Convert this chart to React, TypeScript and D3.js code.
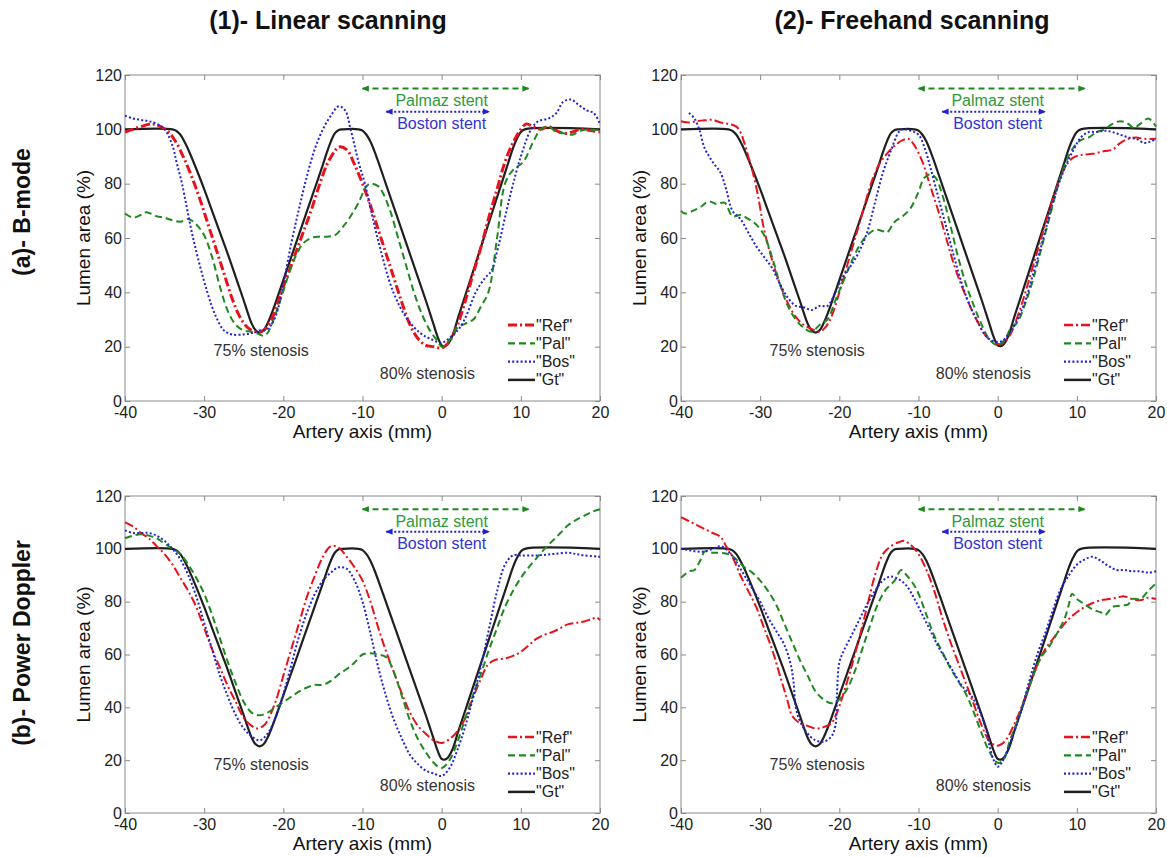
import React, { useRef, useEffect } from 'react'
import * as d3 from 'd3'

type Pt = [number, number]

const xTicks = [-40, -30, -20, -10, 0, 10, 20]
const yTicks = [0, 20, 40, 60, 80, 100, 120]
const legendNames = ['"Ref"', '"Pal"', '"Bos"', '"Gt"']
const colTitles = ['(1)- Linear scanning', '(2)- Freehand scanning']
const rowTitles = ['(a)- B-mode', '(b)- Power Doppler']
const palmazRange = [-10, 11]
const bostonRange = [-7, 6]

// ground truth profile (same in every plot)
const gt: Pt[] = [
  [-40, 100], [-34, 100], [-33.5, 99.4], [-33, 98], [-32.5, 95.5], [-32, 92.5], [-31, 85.5], [-30, 78],
  [-29, 70], [-28, 62], [-27, 54], [-26, 45.5], [-25, 37], [-24.5, 32.5], [-24, 28.5], [-23.5, 26],
  [-23, 25.2], [-22.5, 26], [-22, 28.5], [-21.5, 32], [-21, 36], [-20, 44.5], [-19, 53], [-18, 61.5],
  [-17, 70], [-16, 78.5], [-15, 87], [-14.5, 91.5], [-14, 95.5], [-13.5, 98.5], [-13, 99.8], [-12.5, 100],
  [-10.5, 100], [-10, 99.5], [-9.5, 98], [-9, 95.5], [-8.5, 92], [-8, 88], [-7, 79.5], [-6, 71],
  [-5, 62.5], [-4, 54], [-3, 45.5], [-2, 37], [-1.5, 32.5], [-1, 28], [-0.5, 23.5], [0, 20.5],
  [0.4, 20.2], [0.8, 21], [1.2, 23], [1.6, 26], [2, 30], [3, 39], [4, 48], [5, 57], [6, 66], [7, 75],
  [8, 84], [8.5, 88.5], [9, 93], [9.5, 96.5], [10, 99], [10.5, 100], [20, 100],
]

// (a)(1) B-mode, linear scanning
const refA1: Pt[] = [
  [-40, 99], [-39, 100], [-38, 101], [-36.5, 102], [-35.5, 101], [-34.5, 99], [-33.5, 95], [-32.5, 89],
  [-31.5, 82], [-30.5, 74], [-29.5, 65], [-28.5, 56], [-27.5, 47], [-26.5, 38], [-25.5, 31], [-24.5, 27],
  [-23.5, 25.5], [-22.5, 26], [-21.5, 30], [-20.5, 38], [-19.5, 46], [-18.5, 54], [-17.5, 62], [-16.5, 70],
  [-15.5, 79], [-14.5, 87], [-13.5, 92], [-13, 93.5], [-12, 92.5], [-11, 87], [-10, 80], [-9, 72], [-8, 63],
  [-7, 54], [-6, 45], [-5, 36], [-4, 28], [-3, 23], [-2, 20.5], [-1, 20], [0, 19.5], [1, 22], [2, 28],
  [3, 37], [4, 47], [5, 57], [6, 68], [7, 78], [8, 88], [9, 95], [10, 100], [10.7, 102], [11.5, 101],
  [12.5, 100], [13.5, 101], [14.5, 99.5], [15.5, 98.5], [16.5, 99], [17.5, 100], [19, 99.5], [20, 99],
]
const palA1: Pt[] = [
  [-40, 69], [-39, 67.5], [-38, 68.5], [-37.3, 69.5], [-36, 68], [-35, 67.5], [-34, 66.5], [-33, 66],
  [-32, 67], [-31, 65], [-30, 61], [-29, 53], [-28, 42], [-27, 33], [-26, 28], [-25, 26], [-24, 25.5],
  [-23, 24.5], [-22.5, 24], [-22, 25], [-21.5, 28], [-20.5, 36], [-19.5, 45], [-18.5, 53], [-17.5, 58],
  [-16.5, 60], [-15.5, 60.5], [-14.5, 60.5], [-13.5, 61], [-12.5, 64], [-11.5, 68], [-10.5, 73], [-9.5, 79],
  [-9, 80], [-8, 79], [-7.5, 77], [-6.5, 70], [-5.5, 60], [-4.5, 50], [-3.5, 40], [-2.5, 32], [-1.5, 26],
  [-0.5, 22], [0, 20], [1, 22.5], [2, 27], [3, 28.5], [4, 30], [5, 35], [5.9, 40], [7, 60], [8, 80],
  [9, 85], [10.3, 88], [11.5, 95], [12.5, 100], [13.5, 101], [14.5, 99], [15.5, 98.5], [16.5, 98],
  [17.5, 99.5], [18.5, 100], [20, 99.5],
]
const bosA1: Pt[] = [
  [-40, 105], [-39, 104], [-38, 103.5], [-37, 103], [-36, 102], [-35, 100], [-34, 94], [-33.5, 88],
  [-32.8, 80], [-31.4, 60], [-29.6, 40], [-28.5, 31], [-27.5, 26], [-26.5, 24.5], [-25, 24.5], [-24, 25],
  [-23, 26], [-22, 26.5], [-21, 31], [-20, 43], [-19, 58], [-18, 71], [-17, 83], [-16, 93], [-15, 100],
  [-14, 105], [-13, 108.5], [-12.2, 107], [-11.5, 100], [-10.5, 88], [-9.7, 80], [-8.1, 60], [-6.1, 40],
  [-4.3, 30], [-2.7, 25], [-1.5, 23], [0, 21.5], [1.3, 24], [2.3, 27], [3.2, 32], [4.3, 40], [5.4, 45],
  [6.3, 48], [7, 55], [8.6, 75], [10, 90], [11.3, 100], [12.2, 103], [13.5, 104], [14.5, 106], [15.3, 110],
  [16.3, 111], [17.3, 109], [18.3, 107], [19.2, 106], [20, 102],
]

// (a)(2) B-mode, freehand scanning
const refA2: Pt[] = [
  [-40, 103], [-39, 102.5], [-38, 103], [-37, 103.3], [-36, 103.5], [-35, 102.5], [-34, 102], [-33, 101],
  [-32.5, 99], [-32, 95], [-31.5, 90], [-31, 85], [-30.3, 76], [-29.5, 63], [-28.5, 52], [-27.5, 43],
  [-26.5, 36], [-25.5, 31], [-24.5, 28], [-23.5, 26.5], [-22.5, 25.5], [-21.8, 27], [-21, 31], [-20, 40],
  [-19, 50], [-18, 60], [-17, 70], [-16, 80], [-15, 87], [-14, 91], [-13, 94], [-12, 96], [-11.3, 96.5],
  [-10.5, 94], [-9.5, 88], [-8.5, 79], [-7.5, 70], [-6.5, 60], [-5.5, 50], [-4.5, 42], [-3.5, 35],
  [-2.5, 29], [-1.5, 24], [-0.5, 21.5], [0.5, 21], [1.5, 24], [2.5, 31], [3.5, 40], [4.5, 50], [5.5, 60],
  [6.5, 70], [7.5, 79], [8.5, 86], [9.5, 89.5], [10.5, 90.5], [12, 91], [13.5, 92], [14.5, 92.5],
  [15.5, 95], [16.5, 96.5], [17.5, 97], [18.5, 96.5], [20, 96.5],
]
const palA2: Pt[] = [
  [-40, 70], [-39.5, 69], [-38.5, 70], [-37.5, 71.5], [-36.5, 73.5], [-35.5, 72.5], [-34.5, 73], [-33.5, 68],
  [-32.5, 68.5], [-31.5, 67], [-30.5, 65], [-29.5, 61], [-28.5, 53], [-27.5, 43], [-26.5, 35], [-25.5, 30],
  [-24.5, 27], [-23.5, 25.5], [-22.5, 28], [-21.5, 30], [-20.5, 37], [-19.5, 44], [-18.5, 51], [-17.5, 57],
  [-16.5, 61], [-15.5, 63], [-14.5, 62.5], [-14, 62], [-13, 66], [-12, 68], [-11, 71], [-10, 77],
  [-9.3, 82], [-8.5, 83.5], [-7.8, 82], [-7, 76], [-6, 65], [-5, 53], [-4, 43], [-3, 35], [-2, 28],
  [-1, 22.5], [0, 20.5], [1, 23], [1.5, 26], [2.5, 29], [3.5, 36], [4.5, 45], [5.5, 56], [6.5, 67],
  [7.5, 78], [8.5, 87], [9.5, 93], [10.5, 96], [11.5, 97], [12.5, 99], [13.5, 100], [14.5, 102],
  [15.5, 103], [16.5, 102], [17.2, 100.5], [18, 102], [19, 104], [19.5, 103], [20, 101],
]
const bosA2: Pt[] = [
  [-39, 106], [-38.3, 104], [-37.7, 100], [-37, 93], [-36, 88], [-35, 84], [-34.3, 78], [-33.5, 70],
  [-32.5, 67], [-31.5, 62], [-30.5, 57], [-29.5, 53], [-28.5, 49], [-27.5, 43], [-26.5, 38], [-25.5, 35],
  [-24.5, 34.5], [-23.5, 33.5], [-22.5, 35], [-21.5, 35], [-20.5, 40], [-19.5, 46], [-18.5, 50],
  [-17.5, 55], [-16.5, 62], [-15.5, 73], [-14.5, 84], [-13.5, 92], [-12.5, 99], [-12, 100], [-11, 99.5],
  [-10, 98], [-9.2, 93], [-8.5, 86], [-7.5, 75], [-6.5, 64], [-5.5, 53], [-4.5, 43], [-3.5, 35],
  [-2.5, 29], [-1.5, 24], [-0.5, 22], [0.5, 22], [1.5, 25], [2.5, 30], [3.5, 37], [4.5, 47], [5.5, 57],
  [6.5, 68], [7.5, 78], [8.5, 86], [9.5, 92], [10.5, 97], [11.5, 99], [12.5, 99], [13.5, 99.5],
  [14.5, 99], [15.5, 98], [16.5, 97], [17.5, 96.5], [18.5, 95], [19.3, 95.5], [20, 96.5],
]

// (b)(1) Power Doppler, linear scanning
const refB1: Pt[] = [
  [-40, 110], [-39, 108.5], [-38, 106], [-37, 104], [-36, 101], [-35, 98], [-34, 94], [-33, 89], [-32, 84],
  [-31, 78], [-30, 70], [-29, 62], [-28, 55], [-27, 48], [-26, 42], [-25, 36], [-24, 33], [-23.3, 32],
  [-22.5, 33], [-22, 35], [-21, 42], [-20, 52], [-19, 62], [-18, 72], [-17, 82], [-16, 90], [-15, 97],
  [-14, 101], [-13, 100.5], [-12, 97], [-11, 93], [-10, 88], [-9, 80], [-8, 70], [-7, 61], [-6, 53],
  [-5, 45], [-4, 38], [-3, 33], [-2, 30], [-1, 27.5], [0, 26.5], [1, 28], [2, 31], [3, 36], [4, 44],
  [5, 51], [5.8, 56], [6.8, 58], [8, 58.5], [9, 59.5], [10, 61], [11, 63.5], [12, 66], [13, 67.5],
  [14, 68.5], [15, 70], [16, 71.5], [17, 72], [18, 72.5], [19, 73.5], [19.6, 74], [20, 73],
]
const palB1: Pt[] = [
  [-40, 104], [-39, 105], [-38, 105.5], [-37, 105], [-36, 104], [-35, 102], [-34, 100], [-33, 98],
  [-32, 94], [-31, 89], [-30, 83], [-29, 75], [-28, 66], [-27, 57], [-26, 49], [-25, 42], [-24, 38],
  [-23, 37], [-22, 38], [-21, 40], [-20, 42], [-19, 44], [-18, 46], [-17, 47.5], [-16, 48.5], [-15, 48.5],
  [-14, 50], [-13, 52.5], [-12, 54.5], [-11, 57], [-10, 60], [-9, 60.5], [-8, 60], [-7, 59], [-6, 53],
  [-5, 44], [-4, 35], [-3, 28], [-2, 23], [-1, 19], [0, 17], [1, 20], [2, 27], [3, 36], [4, 45],
  [5, 53], [6, 62], [7, 70], [8, 78], [9, 84], [10, 89], [11, 93], [12, 96.5], [13, 100], [14, 103],
  [15, 106], [16, 109], [17, 111], [18, 112.5], [19, 114], [20, 115],
]
const bosB1: Pt[] = [
  [-40, 107], [-39, 106], [-38, 106], [-37, 106], [-36, 105], [-35, 103], [-34, 100], [-33, 96],
  [-32, 90], [-31, 82], [-30, 72], [-29, 62], [-28, 52], [-27, 44], [-26, 37], [-25, 32], [-24, 29],
  [-23, 27.5], [-22, 30], [-21, 36], [-20, 45], [-19, 56], [-18, 67], [-17, 76], [-16, 83], [-15, 88],
  [-14, 91], [-13, 93], [-12, 92.5], [-11, 88], [-10, 80], [-9, 68], [-8, 55], [-7, 44], [-6, 35],
  [-5, 28], [-4, 22], [-3, 18.5], [-2, 16], [-1, 15], [0, 14], [1, 17], [2, 24], [3, 33], [4, 44],
  [5, 56], [6, 70], [7, 84], [8, 94], [9, 97.5], [10, 97.5], [12, 97.5], [14, 98], [16, 98.5], [17, 98],
  [18, 97.5], [20, 97],
]

// (b)(2) Power Doppler, freehand scanning
const refB2: Pt[] = [
  [-40, 112], [-39, 110.5], [-38, 109], [-37, 107.5], [-36, 106], [-35, 104.5], [-34.3, 101], [-33.5, 97],
  [-32.5, 90], [-31.5, 84], [-30.5, 78], [-29.5, 70], [-28.5, 62], [-27.5, 52], [-26.5, 42], [-26, 37],
  [-25, 34], [-24, 33], [-23, 32], [-22, 32.5], [-21, 34], [-20.3, 38], [-19.5, 45], [-18.5, 55],
  [-17.5, 66], [-16.5, 78], [-15.5, 90], [-14.5, 98], [-13.5, 101], [-12.5, 102.5], [-11.8, 103],
  [-11, 101.5], [-10, 98], [-9, 92], [-8, 84], [-7, 74], [-6, 65], [-5, 57], [-4, 49], [-3, 41],
  [-2, 33], [-1, 27], [0, 25.5], [1, 27.5], [2, 33], [3, 40], [4, 48], [5, 56], [6, 62], [7, 66],
  [8, 70], [9, 73.5], [10, 76], [11, 78], [12, 79.5], [13, 80.5], [14, 81], [15, 81.5], [16, 82],
  [17, 81], [18, 80.5], [19, 81.5], [20, 81],
]
const palB2: Pt[] = [
  [-40, 89], [-39, 91.5], [-38.3, 92], [-37.5, 96], [-37, 99], [-36, 98.5], [-35, 98.5], [-34, 98],
  [-33, 96], [-32, 93], [-31, 91], [-30, 88], [-29, 84], [-28, 79], [-27, 72], [-26, 65], [-25, 58],
  [-24, 52], [-23, 46], [-22, 43], [-21, 41.5], [-20, 43], [-19, 47], [-18, 54], [-17, 63], [-16, 72],
  [-15, 80], [-14, 85], [-13, 88], [-12.2, 92], [-11.5, 90], [-10.5, 86], [-10, 83], [-9, 75], [-8, 67],
  [-7, 61], [-6, 55], [-5, 50], [-4, 45], [-3, 38], [-2, 30], [-1, 23], [0, 19], [0.7, 20], [1.5, 27],
  [2.5, 35], [3.5, 44], [4.5, 52], [5.5, 59], [6.5, 63], [7.5, 68], [8.5, 74], [9, 79], [9.4, 83],
  [10, 81], [11, 79], [12, 77], [13, 76], [13.6, 75], [14.5, 78], [15.5, 78.5], [16.5, 79], [17, 81],
  [18, 81], [19, 84], [20, 87],
]
const bosB2: Pt[] = [
  [-40, 100], [-39, 99.5], [-38, 99], [-37, 99], [-36, 100], [-35, 101], [-34, 99], [-33, 95], [-32, 90],
  [-31, 85], [-30, 80], [-29, 74], [-28, 69], [-27, 64], [-26.2, 57], [-25.8, 50], [-25.5, 40], [-25, 35],
  [-24, 30], [-23, 27.5], [-22, 27], [-21, 29], [-20.5, 33], [-20.3, 45], [-20, 57], [-19.5, 61],
  [-18.5, 67], [-17.5, 73], [-16.5, 79], [-15.5, 84], [-14.5, 88], [-13.5, 89.5], [-12.5, 88.5],
  [-11.5, 86], [-10.5, 81], [-9.5, 75], [-8.5, 69], [-7.5, 63], [-6.5, 58], [-5.5, 53], [-4.5, 48],
  [-3.5, 45], [-2.5, 40], [-1.5, 32], [-1, 25], [-0.5, 20], [0, 17.5], [0.5, 19], [1, 22], [2, 30],
  [3, 39], [4, 50], [5, 60], [6, 68], [7, 77], [8, 85], [9, 90], [10, 94], [11, 96], [12, 97],
  [13, 95.5], [14, 93.5], [15, 92], [16, 92], [17, 91.5], [18, 91.5], [19, 91], [20, 91.5],
]

const FONT = '"Liberation Sans", Arial, Helvetica, sans-serif'
const frameColor = '#8a8a8a'
const textColor = '#222'
const styles = [
  { color: '#e8121c', dash: '9,3,2,3' },
  { color: '#1e8a1e', dash: '7,4' },
  { color: '#2222d4', dash: '2,2.2' },
  { color: '#1f1f1f', dash: null },
]

const panels = [
  { left: 125, top: 75, width: 475, height: 326, series: [refA1, palA1, bosA1], refWidth: 3 },
  { left: 681, top: 75, width: 475, height: 326, series: [refA2, palA2, bosA2], refWidth: 2 },
  { left: 125, top: 496, width: 475, height: 317, series: [refB1, palB1, bosB1], refWidth: 2 },
  { left: 681, top: 496, width: 475, height: 317, series: [refB2, palB2, bosB2], refWidth: 2 },
]

export default function App() {
  const svgRef = useRef<SVGSVGElement>(null)

  useEffect(() => {
    const svg = d3.select(svgRef.current)
    svg.selectAll('*').remove()

    const defs = svg.append('defs')
    const marker = (id: string, color: string) =>
      defs
        .append('marker')
        .attr('id', id)
        .attr('viewBox', '0 0 10 10')
        .attr('refX', 9)
        .attr('refY', 5)
        .attr('markerUnits', 'userSpaceOnUse')
        .attr('markerWidth', 8)
        .attr('markerHeight', 7)
        .attr('orient', 'auto-start-reverse')
        .append('path')
        .attr('d', 'M0,0.5 L10,5 L0,9.5 Z')
        .attr('fill', color)
    marker('arrowPal', styles[1].color)
    marker('arrowBos', styles[2].color)

    // column / row titles
    colTitles.forEach((t, i) => {
      svg
        .append('text')
        .attr('x', i === 0 ? 328 : 912)
        .attr('y', 29)
        .attr('text-anchor', 'middle')
        .attr('font-family', FONT)
        .attr('font-weight', 'bold')
        .attr('font-size', 25)
        .attr('fill', '#111')
        .text(t)
    })
    rowTitles.forEach((t, i) => {
      const cy = i === 0 ? 212 : 643
      svg
        .append('text')
        .attr('transform', `translate(22,${cy}) rotate(-90)`)
        .attr('text-anchor', 'middle')
        .attr('dominant-baseline', 'central')
        .attr('font-family', FONT)
        .attr('font-weight', 'bold')
        .attr('font-size', 23)
        .attr('fill', '#111')
        .text(t)
    })

    panels.forEach(p => {
      const right = p.left + p.width
      const bottom = p.top + p.height
      const x = d3.scaleLinear().domain([-40, 20]).range([p.left, right])
      const y = d3.scaleLinear().domain([0, 120]).range([bottom, p.top])
      const g = svg.append('g')

      g.append('rect')
        .attr('x', p.left)
        .attr('y', p.top)
        .attr('width', p.width)
        .attr('height', p.height)
        .attr('fill', 'none')
        .attr('stroke', frameColor)

      const fmt = (d: d3.NumberValue) => String(d)
      const styleAxis = (a: d3.Selection<SVGGElement, unknown, null, undefined>) => {
        a.select('.domain').remove()
        a.attr('font-family', FONT).attr('font-size', 16).attr('color', frameColor)
        a.selectAll('text').attr('fill', textColor)
      }
      g.append('g')
        .attr('transform', `translate(0,${bottom})`)
        .call(d3.axisBottom(x).tickValues(xTicks).tickFormat(fmt).tickSizeInner(-5).tickSizeOuter(0).tickPadding(6))
        .call(styleAxis)
      g.append('g')
        .attr('transform', `translate(0,${p.top})`)
        .call(d3.axisTop(x).tickValues(xTicks).tickFormat(() => '').tickSizeInner(-5).tickSizeOuter(0))
        .call(styleAxis)
      g.append('g')
        .attr('transform', `translate(${p.left},0)`)
        .call(d3.axisLeft(y).tickValues(yTicks).tickFormat(fmt).tickSizeInner(-5).tickSizeOuter(0).tickPadding(3))
        .call(styleAxis)
      g.append('g')
        .attr('transform', `translate(${right},0)`)
        .call(d3.axisRight(y).tickValues(yTicks).tickFormat(() => '').tickSizeInner(-5).tickSizeOuter(0))
        .call(styleAxis)

      // axis titles
      g.append('text')
        .attr('transform', `translate(${p.left - 42},${(p.top + bottom) / 2}) rotate(-90)`)
        .attr('text-anchor', 'middle')
        .attr('dominant-baseline', 'central')
        .attr('font-family', FONT)
        .attr('font-size', 19)
        .attr('fill', '#111')
        .text('Lumen area (%)')
      g.append('text')
        .attr('x', (p.left + right) / 2)
        .attr('y', bottom + 37)
        .attr('text-anchor', 'middle')
        .attr('font-family', FONT)
        .attr('font-size', 19)
        .attr('fill', '#111')
        .text('Artery axis (mm)')

      // curves: ground truth first, then Ref, Pal, Bos
      const line = d3
        .line<Pt>()
        .x(d => x(d[0]))
        .y(d => y(d[1]))
        .curve(d3.curveCatmullRom.alpha(0.5))
      const all = [gt, ...p.series]
      const order = [3, 0, 1, 2]
      all.forEach((data, k) => {
        const s = styles[order[k]]
        g.append('path')
          .datum(data)
          .attr('d', line)
          .attr('fill', 'none')
          .attr('stroke', s.color)
          .attr('stroke-width', order[k] === 0 ? p.refWidth : order[k] === 3 ? 2.2 : 2)
          .attr('stroke-dasharray', s.dash)
          .attr('stroke-linejoin', 'round')
      })

      // stent arrows + labels
      g.append('line')
        .attr('x1', x(palmazRange[0]))
        .attr('x2', x(palmazRange[1]))
        .attr('y1', y(115))
        .attr('y2', y(115))
        .attr('stroke', styles[1].color)
        .attr('stroke-width', 2)
        .attr('stroke-dasharray', '6,4')
        .attr('marker-start', 'url(#arrowPal)')
        .attr('marker-end', 'url(#arrowPal)')
      g.append('line')
        .attr('x1', x(bostonRange[0]))
        .attr('x2', x(bostonRange[1]))
        .attr('y1', y(106.5))
        .attr('y2', y(106.5))
        .attr('stroke', styles[2].color)
        .attr('stroke-width', 2)
        .attr('stroke-dasharray', '2,2')
        .attr('marker-start', 'url(#arrowBos)')
        .attr('marker-end', 'url(#arrowBos)')
      g.append('text')
        .attr('x', x(0))
        .attr('y', y(110.5))
        .attr('text-anchor', 'middle')
        .attr('dominant-baseline', 'central')
        .attr('font-family', FONT)
        .attr('font-size', 16)
        .attr('fill', '#2f9a38')
        .text('Palmaz stent')
      g.append('text')
        .attr('x', x(0))
        .attr('y', y(102.2))
        .attr('text-anchor', 'middle')
        .attr('dominant-baseline', 'central')
        .attr('font-family', FONT)
        .attr('font-size', 16)
        .attr('fill', '#3333d2')
        .text('Boston stent')

      // stenosis labels
      ;[
        ['75% stenosis', -22.8, 18.5],
        ['80% stenosis', -1.8, 10.3],
      ].forEach(([t, vx, vy]) => {
        g.append('text')
          .attr('x', x(vx as number))
          .attr('y', y(vy as number))
          .attr('text-anchor', 'middle')
          .attr('dominant-baseline', 'central')
          .attr('font-family', FONT)
          .attr('font-size', 16)
          .attr('fill', '#333')
          .text(t as string)
      })

      // legend
      legendNames.forEach((name, i) => {
        const ly = bottom - 76 + i * 18.3
        const s = styles[i]
        g.append('line')
          .attr('x1', right - 92)
          .attr('x2', right - 65)
          .attr('y1', ly)
          .attr('y2', ly)
          .attr('stroke', s.color)
          .attr('stroke-width', i === 0 ? Math.max(p.refWidth, 2.5) : i === 3 ? 2.5 : 2.2)
          .attr('stroke-dasharray', s.dash)
        g.append('text')
          .attr('x', right - 64)
          .attr('y', ly)
          .attr('dominant-baseline', 'central')
          .attr('font-family', FONT)
          .attr('font-size', 16)
          .attr('fill', textColor)
          .text(name)
      })
    })
  }, [])

  return (
    <svg
      ref={svgRef}
      width={1167}
      height={857}
      style={{ position: 'absolute', left: 0, top: 0, background: '#fff' }}
    ></svg>
  )
}
